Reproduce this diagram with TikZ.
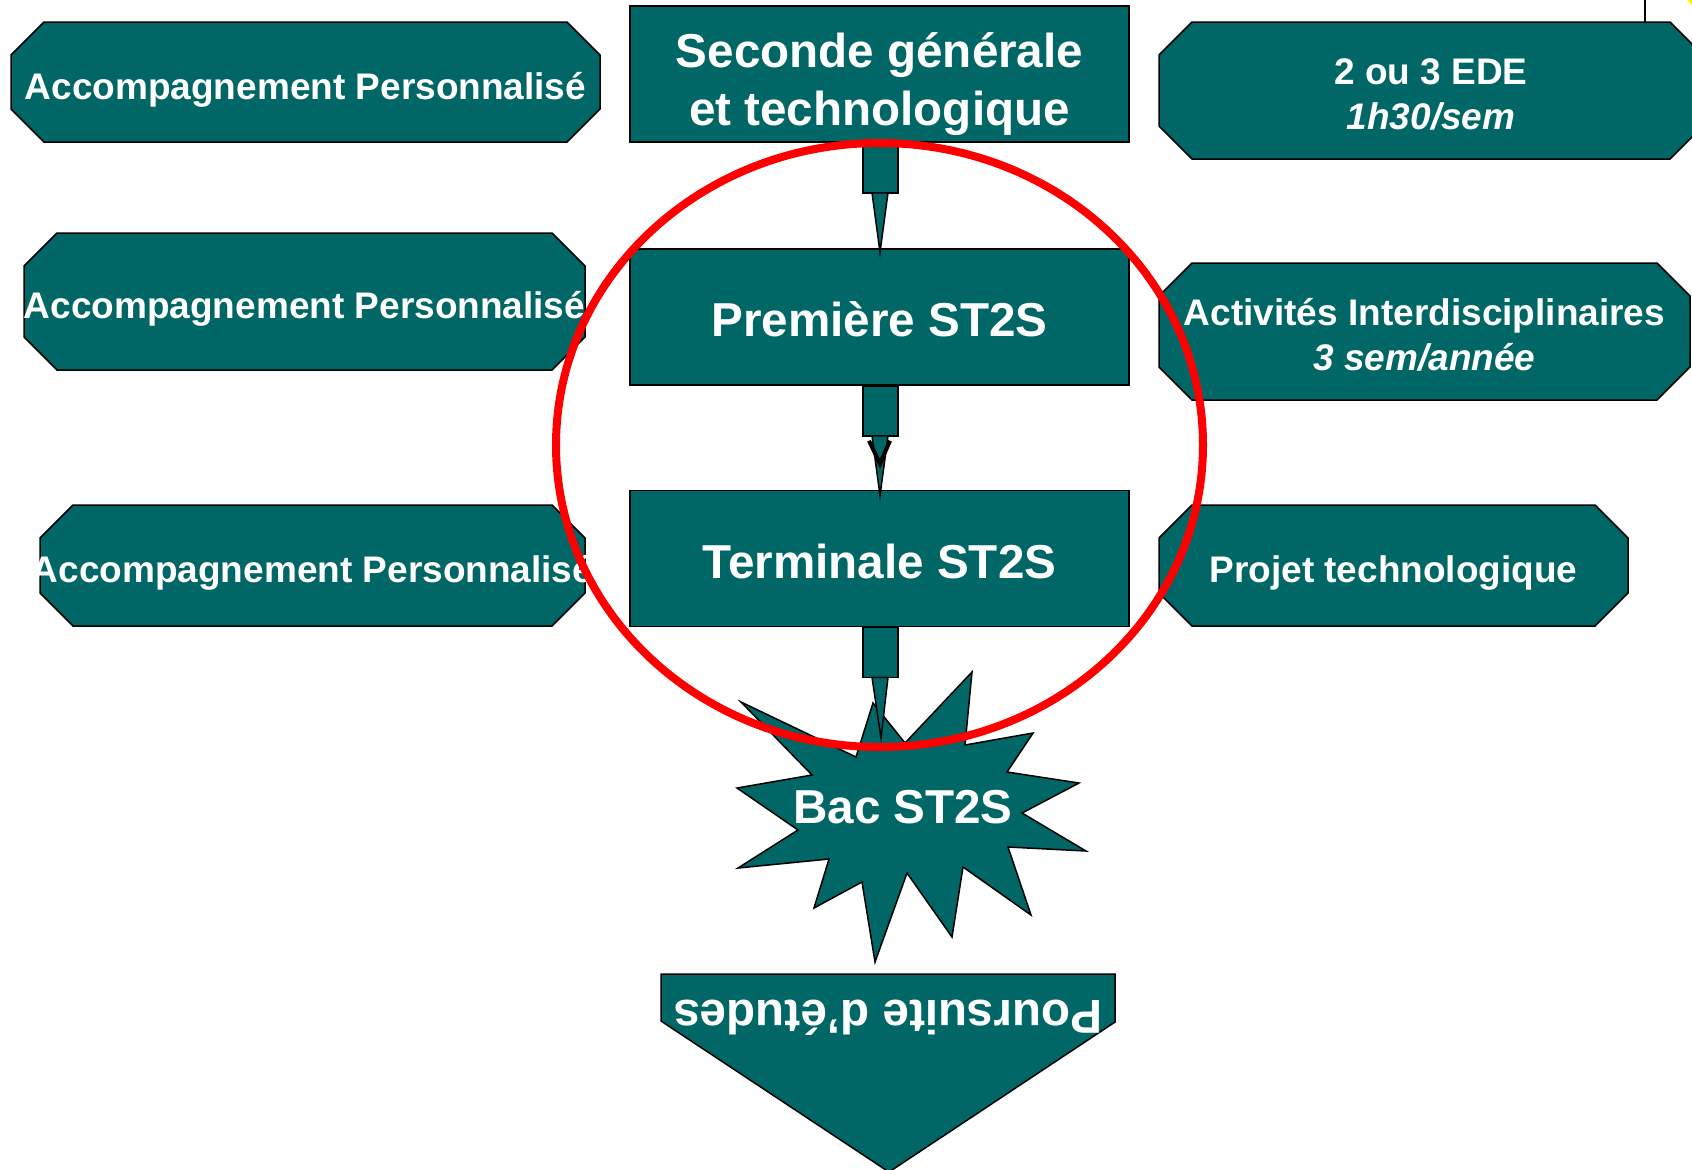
\documentclass[tikz,border=0pt]{standalone}
\usepackage{fontspec}
\setmainfont{Liberation Sans}
\usetikzlibrary{calc,backgrounds}

\definecolor{sarcelle}{RGB}{0,102,102}
\definecolor{rougecercle}{RGB}{255,0,0}

\tikzset{
  grand/.style={font=\bfseries\fontsize{23.8}{29}\selectfont},
  petit/.style={font=\bfseries\fontsize{18.5}{22.5}\selectfont},
  boite/.style={grand, rectangle, draw=black, line width=0.75pt, fill=sarcelle, text=white,
    align=center, minimum width=249.5pt, minimum height=68pt, inner sep=0pt,
    text height=19.5pt, text depth=0pt},
  octo/.style={petit, rectangle, inner sep=0pt, outer sep=0pt, text=white, align=center,
    text height=17pt, text depth=0pt},
  octodeux/.style={octo, text height=39pt, text depth=0pt},
  fond/.style={draw=black, line width=0.75pt, fill=sarcelle},
  textebac/.style={grand, text=white, inner sep=0pt},
  cercle/.style={draw=rougecercle, line width=4pt}
}

% octogone autour d'un noeud
\newcommand{\octogone}[1]{%
  \filldraw[fond] ($(#1.north west)+(33,0)$) -- ($(#1.north east)+(-33,0)$)
    -- ($(#1.north east)+(0,33)$) -- ($(#1.south east)+(0,-33)$)
    -- ($(#1.south east)+(-33,0)$) -- ($(#1.south west)+(33,0)$)
    -- ($(#1.south west)+(0,-33)$) -- ($(#1.north west)+(0,33)$) -- cycle;}

% fleche epaisse d'une boite a une pointe
\newcommand{\flechebloc}[2]{%
  \filldraw[fond] ($(#1.south)+(-16.5,0)$) rectangle ($(#1.south)+(18.5,50)$);
  \filldraw[fond] ($(#1.south)+(-7.5,50)$) -- ($(#1.south)+(8.5,50)$) -- (#2) -- cycle;}

\begin{document}
\begin{tikzpicture}[x=0.5pt,y=-0.5pt]
\useasboundingbox (0,0) rectangle (1692,1169);

% Accompagnement personnalise
\node[octo, minimum width=294.5pt, minimum height=60pt] (ap1) at (305.5,82) {\makebox[0pt]{Accompagnement Personnalisé}};
\node[octo, minimum width=280.5pt, minimum height=68.5pt] (ap2) at (304.5,301.5) {\makebox[0pt]{Accompagnement Personnalisé}};
\node[octo, minimum width=272.5pt, minimum height=60.5pt] (ap3) at (312.5,565.5) {\makebox[0pt]{Accompagnement Personnalisé}};

% Boites centrales
\node[boite, text height=51pt, text depth=0pt] (seconde) at (879.5,74) {Seconde générale\\et technologique};
\node[boite] (premiere) at (879.5,317) {Première ST2S};
\node[boite] (terminale) at (879.5,558.5) {Terminale ST2S};

% Boites de droite
\node[octodeux, minimum width=272pt, minimum height=68.5pt] (ede) at (1431,90.5) {2 ou 3 EDE\\{\itshape 1h30/sem}};
\node[octodeux, minimum width=265.5pt, minimum height=68.5pt] (activites) at (1424.5,331.5) {Activités Interdisciplinaires\\{\itshape 3 sem/année}};
\node[octo, minimum width=234.5pt, minimum height=60.5pt] (projet) at (1393.5,565.5) {\makebox[0pt]{Projet technologique}};

\begin{scope}[on background layer]
\foreach \n in {ap1,ap2,ap3,ede,activites,projet} {\octogone{\n}}
\end{scope}

% Etoile du bac
\filldraw[fond] (741,702) -- (856,757) -- (873,703) -- (905,743) -- (972,672) -- (965,745)
  -- (1033,733) -- (1007,772) -- (1079,783) -- (1022,813) -- (1086,851) -- (1008,847)
  -- (1031,915) -- (963,867) -- (952,937) -- (907,873) -- (875,962) -- (862,882)
  -- (814,908) -- (829,859) -- (738,868) -- (798,830) -- (737,788) -- (812,775) -- cycle;
\node[textebac] (bac) at (903,807) {Bac ST2S};
\coordinate (bacpointe) at (881,738);

% Fleches
\flechebloc{seconde}{$(premiere.north)+(0.5,4)$}
\flechebloc{premiere}{$(terminale.north)+(0.5,6)$}
\flechebloc{terminale}{bacpointe}
\draw[line width=2pt] ($(premiere.south)+(-10.5,55)$) -- ($(premiere.south)+(0.5,78)$) -- ($(premiere.south)+(10.5,55)$);

% Poursuite d'etudes
\filldraw[fond] (661,974) -- (1115,974) -- (1115,1022) -- (889,1172) -- (661,1021) -- cycle;
\node[textebac, rotate=180] (poursuite) at (888,1018) {Poursuite d’études};

% Cercle rouge
\draw[cercle] (879.5,445) ellipse [x radius=323.5, y radius=302];

\draw[line width=0.75pt] (1645,0) -- (1645,22);
\fill[yellow] (1700,-8) circle (15);
\end{tikzpicture}
\end{document}
